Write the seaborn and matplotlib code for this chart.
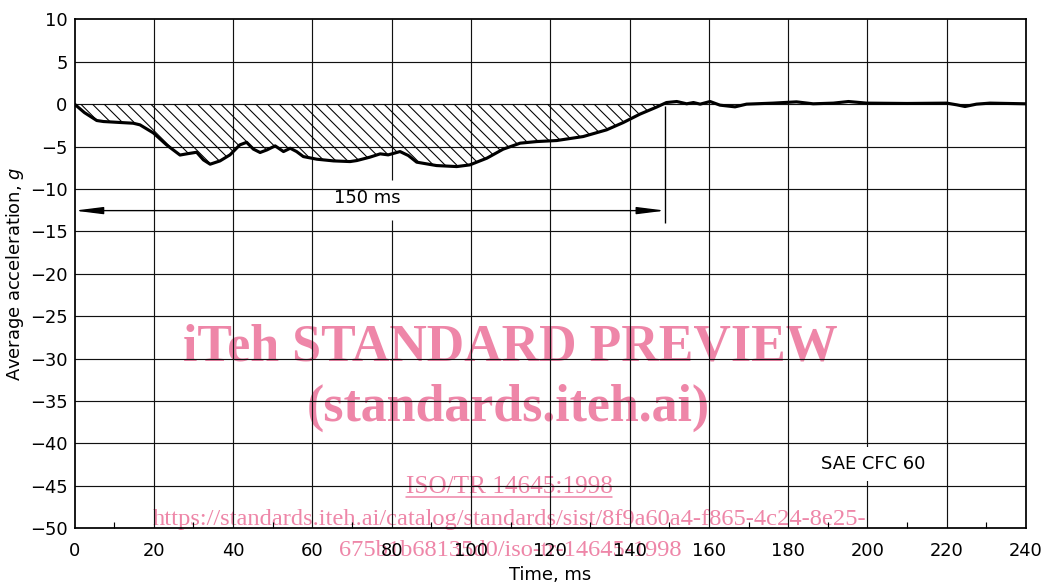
import numpy as np
import pandas as pd
import seaborn as sns
import matplotlib.pyplot as plt
from matplotlib.lines import Line2D

# curve (time in ms, average acceleration in g)
time_ms = [0, 2.5, 5.6, 7.3, 11, 14.8, 16.5, 19.9, 23.2, 26.6, 28.3, 30.8, 32.5, 34.2,
           36.7, 39.2, 41.7, 43.4, 45.1, 46.8, 48.5, 50.6, 52.7, 54.4, 56.0, 57.7, 61.1,
           65.3, 69.5, 71.2, 74.5, 77.1, 79.1, 82.1, 84.2, 86.3, 91.3, 96.4, 99.7, 104,
           108.1, 112.4, 116.6, 121.6, 128.3, 134.2, 138.4, 142.6, 146.8, 149.3, 151.9,
           154.4, 156.1, 157.8, 160.3, 162.8, 166.6, 169.5, 176.2, 182.1, 186.3, 191.4,
           195.2, 199.8, 210, 220, 222.5, 224.6, 227.5, 230.9, 240]
accel_g = [0, -1.0, -1.93, -2.05, -2.15, -2.25, -2.44, -3.4, -4.8, -6.0, -5.86, -5.67,
           -6.57, -7.08, -6.69, -5.98, -4.8, -4.5, -5.3, -5.7, -5.4, -4.92, -5.59, -5.2,
           -5.59, -6.18, -6.49, -6.69, -6.77, -6.65, -6.25, -5.86, -5.98, -5.59, -6.06,
           -6.84, -7.24, -7.36, -7.16, -6.37, -5.31, -4.6, -4.41, -4.29, -3.82, -3.03,
           -2.17, -1.18, -0.35, 0.19, 0.31, 0.04, 0.19, 0.0, 0.31, -0.12, -0.32, 0.0,
           0.12, 0.27, 0.04, 0.12, 0.31, 0.12, 0.08, 0.12, -0.08, -0.28, 0.0, 0.12, 0.04]

x_ticks = list(range(0, 241, 20))
y_ticks = list(range(-50, 11, 5))
minor_x = list(range(10, 240, 20))

pulse_end = 149      # end of the dimension line ("150 ms")
dim_y = -12.55

df = pd.DataFrame({"t": time_ms, "a": accel_g})

sns.set_style("white")
plt.rcParams['font.family'] = ['DejaVu Sans']
plt.rcParams['hatch.linewidth'] = 0.55
plt.rcParams['text.color'] = 'black'
plt.rcParams['axes.labelcolor'] = 'black'
plt.rcParams['xtick.color'] = 'black'
plt.rcParams['ytick.color'] = 'black'

fig = plt.figure(figsize=(7.5, 585 / 140), dpi=140)
ax = fig.add_axes([0.0710, 0.0969, 0.9062, 0.8701])
ax.set_facecolor("none")   # let the watermark show under the grid

ax.set_xlim(0, 240)
ax.set_ylim(-50, 10)

# grid
gcol = "#111111"
ax.grid(False)
for yv in y_ticks[1:-1]:
    ax.axhline(yv, color=gcol, lw=0.6, zorder=1)
for xv in x_ticks[1:-1]:
    if xv == 80:
        ax.vlines(xv, -50, -13.7, color=gcol, lw=0.6, zorder=1)
        ax.vlines(xv, -8.95, 10, color=gcol, lw=0.6, zorder=1)
    else:
        ax.vlines(xv, -50, 10, color=gcol, lw=0.6, zorder=1)

# hatched area
t = np.array(time_ms)
a = np.array(accel_g)
ax.fill_between(t, a, 0, where=(t <= pulse_end) & (a <= 0), interpolate=True,
                facecolor="none", edgecolor="black", hatch="\\\\\\\\", lw=0, zorder=2)

sns.lineplot(data=df, x="t", y="a", color="black", lw=1.6, ax=ax, zorder=4)
ax.lines[-1].set_solid_joinstyle("round")

# dimension line
ax.annotate("", xy=(0, dim_y), xytext=(pulse_end, dim_y),
            arrowprops=dict(arrowstyle="<|-|>,head_length=1.35,head_width=0.17",
                            color="black", lw=0.7, shrinkA=0, shrinkB=0, mutation_scale=9),
            zorder=5)
ax.vlines(pulse_end, -14.05, -0.2, color="black", lw=0.7, zorder=5)
ax.text(73.8, -11.05, "150 ms", ha="center", va="center", fontsize=9.2, zorder=6)
ax.text(201.5, -42.4, "SAE CFC 60", ha="center", va="center", fontsize=9.2, zorder=6,
        bbox=dict(boxstyle="square,pad=0.45", fc="white", ec="none"))

ax.set_xticks(x_ticks)
ax.set_yticks(y_ticks)
ax.set_xticks(minor_x, minor=True)
ax.tick_params(axis="both", which="major", length=0, labelsize=9.2, pad=3.5)
ax.tick_params(axis="x", which="major", pad=7)
ax.tick_params(axis="x", which="minor", direction="in", length=3, width=0.6, bottom=True)
for s in ax.spines.values():
    s.set_color("black")
    s.set_linewidth(0.9)
    s.set_zorder(7)

ax.set_xlabel("Time, ms", fontsize=9.2, labelpad=3)
ax.set_ylabel("Average acceleration, $g$", fontsize=9.2, labelpad=2)

# watermark (drawn beneath the axes)
pink = "#EE86A8"
wm = dict(color=pink, family=["Liberation Serif", "DejaVu Serif"], ha="center",
          va="center", zorder=-1)
fig.text(0.4857, 0.4068, "iTeh STANDARD PREVIEW", fontsize=26.7, weight="bold", **wm)
fig.text(0.4838, 0.3026, "(standards.iteh.ai)", fontsize=26.7, weight="bold", **wm)
fig.text(0.4848, 0.1675, "ISO/TR 14645:1998", fontsize=13, **wm)
fig.add_artist(Line2D([406 / 1050, 612 / 1050], [1 - 497 / 585] * 2, color=pink, lw=0.8,
                      zorder=-1))
fig.text(0.4857, 0.1125, "https://standards.iteh.ai/catalog/standards/sist/8f9a60a4-f865-4c24-8e25-",
         fontsize=12.6, **wm)
fig.text(0.4857, 0.0595, "675b1b68135d0/iso-tr-14645-1998", fontsize=12.6, **wm)

fig.savefig("out.png", dpi=140, facecolor="white")
